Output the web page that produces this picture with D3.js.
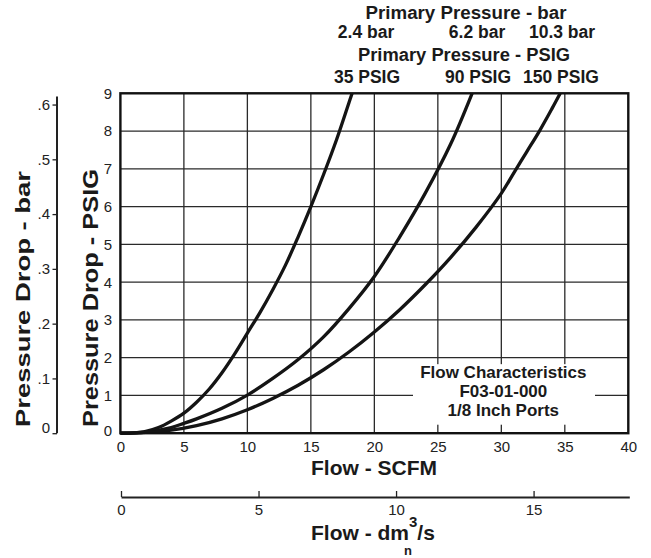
<!DOCTYPE html>
<html><head><meta charset="utf-8">
<script src="https://cdn.jsdelivr.net/npm/d3@7"></script>
<style>
body{margin:0;background:#fff}
svg{display:block;font-family:"Liberation Sans",Arial,Helvetica,sans-serif}
</style>
</head><body>
<svg id="chart" width="651" height="558"></svg>
<script>
// ---- data ----
const flowTicks = [0,5,10,15,20,25,30,35,40];
const psigTicks = [0,1,2,3,4,5,6,7,8,9];
const barTicks = [0,0.1,0.2,0.3,0.4,0.5,0.6];
const dmTicks = [0,5,10,15];
const seriesNames = ["35 PSIG","90 PSIG","150 PSIG"];
const barNames = ["2.4 bar","6.2 bar","10.3 bar"];
const flow35 = [0,1,2,3,4,5,6,7,8,9,10,11,12,13,14,15,16,17,18,18.25];
const drop35 = [0,0.01,0.05,0.15,0.32,0.53,0.82,1.17,1.6,2.1,2.65,3.2,3.8,4.45,5.2,6.0,6.85,7.75,8.75,9];
const flow90 = [0,2,4,5,6,8,10,12,14,16,18,20,22,24,26,27.7];
const drop90 = [0,0.03,0.15,0.26,0.38,0.66,1.01,1.45,1.95,2.55,3.3,4.15,5.2,6.35,7.65,9];
const flow150 = [0,2,4,6,8,10,12,14,16,18,20,22,24,26,28,30,31,32,33,34,34.64];
const drop150 = [0,0.02,0.08,0.2,0.38,0.62,0.92,1.27,1.68,2.15,2.68,3.27,3.93,4.65,5.45,6.35,6.9,7.45,8.0,8.6,9];
const noteLines = ["Flow Characteristics","F03-01-000","1/8 Inch Ports"];
const PSI_TO_BAR = 0.0689476;
const SCFM_MAX_DM = 18.48;

const svg = d3.select("#chart");
const x = d3.scaleLinear().domain([0,40]).range([120.4,628.3]);
const y = d3.scaleLinear().domain([0,9]).range([433.2,93.3]);
const yBar = d3.scaleLinear().domain([0,9*PSI_TO_BAR]).range(y.range());
const xDm = d3.scaleLinear().domain([0,SCFM_MAX_DM]).range([121,629.3]);

// grid
const g = svg.append("g");
g.selectAll("line.v").data(flowTicks.slice(1,-1)).join("line")
  .attr("x1",d=>x(d)).attr("x2",d=>x(d)).attr("y1",y(0)).attr("y2",y(9))
  .attr("stroke","#2a2a2a").attr("stroke-width",1.3);
g.selectAll("line.h").data(psigTicks.slice(1,-1)).join("line")
  .attr("x1",x(0)).attr("x2",x(40)).attr("y1",d=>y(d)).attr("y2",d=>y(d))
  .attr("stroke","#2a2a2a").attr("stroke-width",1.3);

// curves
const line = d3.line().x(d=>x(d[0])).y(d=>y(d[1])).curve(d3.curveCatmullRom.alpha(0.5));
const series = [d3.zip(flow35,drop35), d3.zip(flow90,drop90), d3.zip(flow150,drop150)];
svg.append("g").selectAll("path").data(series).join("path")
  .attr("d",line).attr("fill","none").attr("stroke","#141414")
  .attr("stroke-width",3.3).attr("stroke-linecap","butt");

// note box
const noteX = (x(25)+x(35))/2 + 2;
svg.append("rect").attr("x",413).attr("y",y(2)+6.5).attr("width",182).attr("height",y(0)-y(2)-15)
  .attr("fill","#fff");
svg.append("g").selectAll("text").data(noteLines).join("text")
  .attr("x",noteX).attr("y",(d,i)=>378+i*19)
  .attr("text-anchor","middle").attr("font-size",17).attr("font-weight","bold").attr("fill","#1a1a1a")
  .text(d=>d);

// frame
svg.append("rect").attr("x",x(0)).attr("y",y(9)).attr("width",x(40)-x(0)).attr("height",y(0)-y(9))
  .attr("fill","none").attr("stroke","#111").attr("stroke-width",2.4);

// x axis labels (SCFM)
const ax = svg.append("g").attr("transform",`translate(0,${y(0)})`)
  .call(d3.axisBottom(x).tickValues(flowTicks).tickSize(0).tickPadding(8).tickFormat(d3.format("d")));
ax.select(".domain").remove();
ax.selectAll("text").attr("font-size",15).attr("font-family",null).attr("fill","#222");

// PSIG labels
svg.append("g").selectAll("text").data(psigTicks).join("text")
  .attr("x",112).attr("y",d=>y(d) + (d===0?-3:0)).attr("dy","0.36em")
  .attr("text-anchor","end").attr("font-size",15).attr("fill","#222").text(d=>d);

// bar axis
const barAxis = svg.append("g").attr("transform","translate(57,0)")
  .call(d3.axisLeft(yBar).tickValues(barTicks).tickSize(4.5).tickSizeOuter(0).tickPadding(2.5)
    .tickFormat(d=> d===0 ? "0" : d3.format(".1f")(d).replace(/^0/,"")));
barAxis.select(".domain").remove();
barAxis.append("line").attr("x1",0).attr("x2",0).attr("y1",yBar(0)).attr("y2",yBar(0.6)-8)
  .attr("stroke","#222").attr("stroke-width",2);
barAxis.selectAll(".tick line").attr("stroke","#222").attr("stroke-width",1.3);
barAxis.selectAll(".tick text").attr("font-size",15).attr("font-family",null).attr("fill","#222")
  .attr("dy",d=> d===0 ? "-0.05em" : "0.32em");

// dm3/s axis
const dmAxis = svg.append("g").attr("transform","translate(0,497)")
  .call(d3.axisBottom(xDm).tickValues(dmTicks).tickSize(-6).tickSizeOuter(0).tickPadding(7).tickFormat(d3.format("d")));
dmAxis.select(".domain").attr("stroke","#222").attr("stroke-width",2.2);
dmAxis.selectAll(".tick line").attr("stroke","#222").attr("stroke-width",1.3);
dmAxis.selectAll(".tick text").attr("font-size",15).attr("font-family",null).attr("fill","#222");

// titles
svg.append("text").attr("x",374).attr("y",475).attr("text-anchor","middle")
  .attr("font-size",21).attr("font-weight","bold").attr("fill","#1a1a1a").text("Flow - SCFM");

const dmT = svg.append("text").attr("x",311).attr("y",540)
  .attr("font-size",21).attr("font-weight","bold").attr("fill","#1a1a1a");
const t1 = dmT.append("tspan").text("Flow - dm");
dmT.append("tspan").attr("font-size",15).attr("dy",-13).text("3");
dmT.append("tspan").attr("dy",13).text("/s");
const mEnd = 311 + t1.node().getComputedTextLength();
svg.append("text").attr("x",mEnd-1).attr("y",554.5).attr("text-anchor","middle")
  .attr("font-size",13).attr("font-weight","bold").attr("fill","#1a1a1a").text("n");

svg.append("text").attr("transform","translate(98,298) rotate(-90)").attr("text-anchor","middle")
  .attr("font-size",22).attr("font-weight","bold").attr("fill","#1a1a1a")
  .attr("textLength",258).attr("lengthAdjust","spacingAndGlyphs").text("Pressure Drop - PSIG");
svg.append("text").attr("transform","translate(30,299) rotate(-90)").attr("text-anchor","middle")
  .attr("font-size",21).attr("font-weight","bold").attr("fill","#1a1a1a")
  .attr("textLength",256).attr("lengthAdjust","spacingAndGlyphs").text("Pressure Drop - bar");

// top labels
const topG = svg.append("g").attr("font-weight","bold").attr("fill","#1a1a1a").attr("text-anchor","middle");
topG.append("text").attr("x",466).attr("y",19).attr("font-size",17.5).attr("textLength",201)
  .attr("lengthAdjust","spacingAndGlyphs").text("Primary Pressure - bar");
topG.append("text").attr("x",464).attr("y",61).attr("font-size",17.5).attr("textLength",212)
  .attr("lengthAdjust","spacingAndGlyphs").text("Primary Pressure - PSIG");
const barX = [366,477,562], psigX = [367,478,561];
topG.selectAll("text.b").data(barNames).join("text").attr("class","b")
  .attr("x",(d,i)=>barX[i]).attr("y",38).attr("font-size",17.5).text(d=>d);
topG.selectAll("text.p").data(seriesNames).join("text").attr("class","p")
  .attr("x",(d,i)=>psigX[i]).attr("y",83).attr("font-size",17.5).text(d=>d);
</script>
</body></html>
